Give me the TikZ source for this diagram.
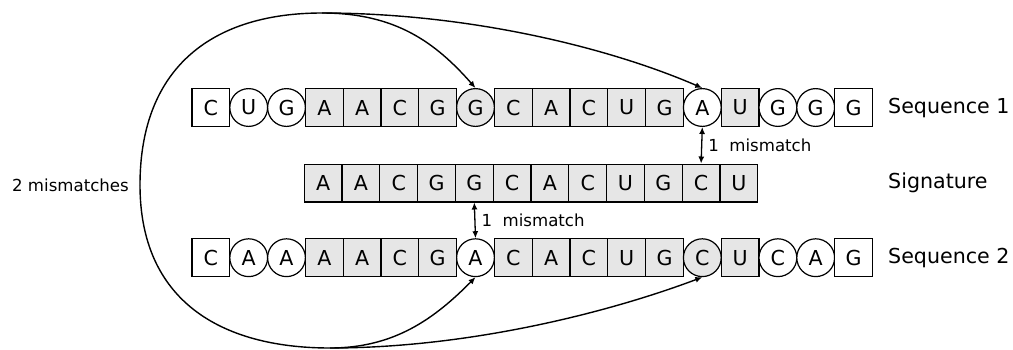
\documentclass[tikz,border=0pt]{standalone}
\usepackage{fontspec}
\setmainfont{DejaVu Sans}
\usetikzlibrary{arrows.meta}
\definecolor{cellgray}{HTML}{E6E6E6}
\begin{document}
\begin{tikzpicture}[x=1pt,y=-1pt,
  cell/.style={draw, minimum size=37.8pt, inner sep=0pt, line width=1.2pt,
    font=\fontsize{20.6}{24}\selectfont},
  bw/.style={cell, rectangle, fill=white},
  bg/.style={cell, rectangle, fill=cellgray},
  cw/.style={cell, circle, fill=white},
  cg/.style={cell, circle, fill=cellgray},
  rowlabel/.style={anchor=west, inner sep=0pt, font=\fontsize{20.6}{24}\selectfont},
  note/.style={inner sep=0pt, font=\fontsize{16.6}{20}\selectfont},
  curve/.style={line width=1.4pt},
  tip/.style={-{Latex[length=7pt,width=6pt]}},
  both/.style={{Latex[length=7pt,width=6pt]}-{Latex[length=7pt,width=6pt]}, line width=1.3pt}]
\useasboundingbox (0,0) rectangle (1013,349);

% Sequence 1
\foreach \l/\s [count=\i] in {C/bw,U/cw,G/cw,A/bg,A/bg,C/bg,G/bg,G/cg,C/bg,A/bg,C/bg,U/bg,G/bg,A/cw,U/bg,G/cw,G/cw,G/bw}
  \node[\s] (s1-\i) at ({192+(\i-0.5)*37.8},107.5) {\l};

% Signature
\foreach \l [count=\i] in {A,A,C,G,G,C,A,C,U,G,C,U}
  \node[bg] (sg-\i) at ({304.2+(\i-0.5)*37.8},183) {\l};

% Sequence 2
\foreach \l/\s [count=\i] in {C/bw,A/cw,A/cw,A/bg,A/bg,C/bg,G/bg,A/cw,C/bg,A/bg,C/bg,U/bg,G/bg,C/cg,U/bg,C/cw,A/cw,G/bw}
  \node[\s] (s2-\i) at ({192+(\i-0.5)*37.8},257.7) {\l};

% row labels
\node[rowlabel] (lab1) at (888,107.5) {Sequence 1};
\node[rowlabel] (labs) at (888,183) {Signature};
\node[rowlabel] (lab2) at (888,257.7) {Sequence 2};

% single mismatches
\draw[both] (s1-14.south) -- (sg-11.north) node[note, midway, anchor=west, xshift=6pt] (m1) {1~~mismatch};
\draw[both] (sg-5.south) -- (s2-8.north) node[note, midway, anchor=west, xshift=6pt] (m2) {1~~mismatch};

% double mismatch loop
\coordinate (top) at (322,13);
\coordinate (left) at (140,185);
\coordinate (bot) at (330,348);
\node[note, anchor=east] (m3) at (129,185) {2 mismatches};
\draw[curve] (left) .. controls (140,65) and (215,13) .. (top);
\draw[curve] (left) .. controls (140,300) and (220,348) .. (bot);
\draw[curve,tip] (top) .. controls (395,13) and (435,42) .. (s1-8.north);
\draw[curve,tip] (top) .. controls (470,13) and (610,48) .. (s1-14.north);
\draw[curve,tip] (bot) .. controls (395,348) and (435,318) .. (s2-8.south);
\draw[curve,tip] (bot) .. controls (470,348) and (610,312) .. (s2-14.south);
\end{tikzpicture}
\end{document}
